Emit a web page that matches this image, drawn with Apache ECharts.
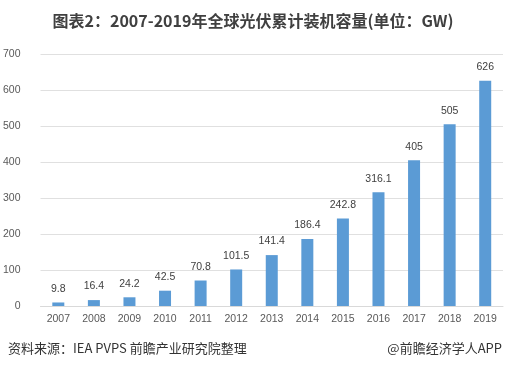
<!DOCTYPE html>
<html><head><meta charset="utf-8">
<script src="https://cdn.jsdelivr.net/npm/echarts@6/dist/echarts.min.js"></script>
<style>html,body{margin:0;padding:0;background:#fff}#c{width:506px;height:371px}</style>
</head><body><div id="c"></div>
<script>
const categories = ['2007','2008','2009','2010','2011','2012','2013','2014','2015','2016','2017','2018','2019'];
const values = [9.8,16.4,24.2,42.5,70.8,101.5,141.4,186.4,242.8,316.1,405,505,626];
const labels = ['9.8','16.4','24.2','42.5','70.8','101.5','141.4','186.4','242.8','316.1','405','505','626'];
const yTicks = [0,100,200,300,400,500,600,700];
const chart = echarts.init(document.getElementById('c'));
const ff = '"Noto Sans CJK SC","Liberation Sans",sans-serif';
chart.setOption({
  animation:false,
  backgroundColor:'#fff',
  title:{text:'图表2：2007-2019年全球光伏累计装机容量(单位：GW)',left:'center',top:8,
    textStyle:{fontFamily:ff,fontSize:16,fontWeight:'bold',color:'#404040'}},
  graphic:[
    {type:'text',left:8,top:342,style:{text:'资料来源：IEA PVPS 前瞻产业研究院整理',font:'13px '+ff,fill:'#333'}},
    {type:'text',right:4,top:342,style:{text:'@前瞻经济学人APP',font:'13px '+ff,fill:'#333'}}
  ],
  grid:{left:32,right:3,top:54,bottom:65},
  xAxis:{type:'category',data:categories,
    axisLine:{lineStyle:{color:'#d9d9d9'}},axisTick:{show:false},
    axisLabel:{color:'#595959',fontSize:10.5,fontFamily:'"Liberation Sans",sans-serif',margin:8}},
  yAxis:{type:'value',min:0,max:700,interval:100,
    axisLine:{show:false},axisTick:{show:false},
    splitLine:{lineStyle:{color:'#e0e0e0'}},
    axisLabel:{color:'#595959',fontSize:10.5,fontFamily:'"Liberation Sans",sans-serif',margin:20,
      formatter:v=>yTicks.includes(v)?String(v):''}},
  series:[{type:'bar',data:values,barWidth:12,itemStyle:{color:'#5B9BD5'},
    label:{show:true,position:'top',distance:8,color:'#404040',fontSize:10.5,
      fontFamily:'"Liberation Sans",sans-serif',
      formatter:p=>labels[p.dataIndex]}}]
});
</script></body></html>
